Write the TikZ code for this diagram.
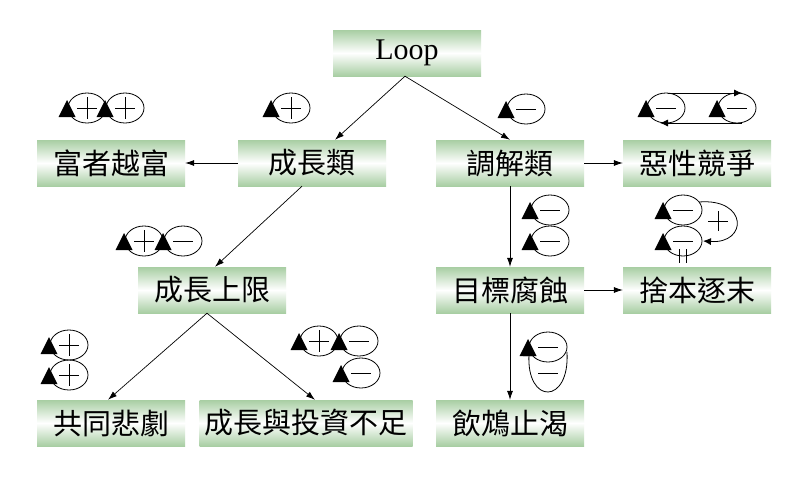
\documentclass[tikz,border=0pt]{standalone}
\usepackage{fontspec}
\setmainfont{Liberation Serif}
\newfontfamily\cjk{Noto Sans CJK TC}
\usetikzlibrary{arrows.meta}
\definecolor{boxg}{RGB}{168,206,163}
\begin{document}
\begin{tikzpicture}[x=1pt,y=-1pt,
  box/.style={rectangle, minimum width=148pt, minimum height=46pt, inner sep=0pt,
    top color=boxg, bottom color=boxg, middle color=white,
    font=\cjk\fontsize{29}{29}\selectfont},
  conn/.style={-{Latex[length=9pt,width=6pt]}, line width=0.7pt},
  sym/.style={line width=0.8pt},
  tri/.style={fill=black},
  plusloop/.pic={
    \draw[sym] (0,0) ellipse [x radius=19pt, y radius=15pt];
    \fill (-20,-8) -- (-28.5,9) -- (-11.5,9) -- cycle;
    \draw[sym] (-10,0) -- (10,0) (0,-11) -- (0,11);},
  minusloop/.pic={
    \draw[sym] (0,0) ellipse [x radius=19pt, y radius=15pt];
    \fill (-20,-8) -- (-28.5,9) -- (-11.5,9) -- cycle;
    \draw[sym] (-10,0) -- (10,0);}
]
\useasboundingbox (0,0) rectangle (803,479);
\fill[white] (0,0) rectangle (803,479);

% boxes
\node[box, font=\fontsize{30}{30}\selectfont] (loop) at (407,53) {Loop};
\node[box] (rich) at (111,163) {富者越富};
\node[box] (grow) at (312,163) {成長類};
\node[box] (adj) at (510,163) {調解類};
\node[box] (esc) at (697,163) {惡性競爭};
\node[box] (lim) at (212,290) {成長上限};
\node[box] (erode) at (510,290) {目標腐蝕};
\node[box] (shift) at (697,290) {捨本逐末};
\node[box] (trag) at (111,423) {共同悲劇};
\node[box, minimum width=213pt] (under) at (306,423) {成長與投資不足};
\node[box] (fix) at (510,423) {飲鴆止渴};

% connectors
\draw[conn] ([xshift=-2pt]loop.south) -- ([xshift=23pt]grow.north);
\draw[conn] ([xshift=-2pt]loop.south) -- (adj.north);
\draw[conn] (grow.west) -- (rich.east);
\draw[conn] (adj.east) -- (esc.west);
\draw[conn] ([xshift=-10pt]grow.south) -- ([xshift=3pt]lim.north);
\draw[conn] (adj.south) -- (erode.north);
\draw[conn] (erode.east) -- (shift.west);
\draw[conn] ([xshift=-5pt]lim.south) -- ([xshift=-3pt]trag.north);
\draw[conn] ([xshift=-5pt]lim.south) -- ([xshift=9pt]under.north);
\draw[conn] (erode.south) -- (fix.north);

% loop symbols
\pic at (87,108) {plusloop};
\pic at (125,108) {plusloop};
\pic at (291,108) {plusloop};
\pic at (526,109) {minusloop};
% escalation
\pic at (666,108) {minusloop};
\pic at (737,108) {minusloop};
\draw[sym, -{Latex[length=8pt,width=7pt]}] (668,93) -- (742,93);
\draw[sym, -{Latex[length=8pt,width=7pt]}] (742,123) -- (660,123);
% limits
\pic at (144,241) {plusloop};
\pic at (183,241) {minusloop};
% eroding
\pic at (550,210) {minusloop};
\pic at (550,241) {minusloop};
% shifting burden
\pic at (683,210) {minusloop};
\pic at (683,241) {minusloop};
\draw[sym, -{Latex[length=8pt,width=7pt]}] (699,202) .. controls (748,198) and (748,244) .. (703,241);
\draw[sym] (708,221) -- (728,221) (718,211) -- (718,231);
\draw[sym] (679,249) -- (679,263) (686,249) -- (686,263);
% tragedy
\pic at (69,345) {plusloop};
\pic at (69,375) {plusloop};
% underinvestment
\pic at (319,341) {plusloop};
\pic at (359,341) {minusloop};
\pic at (361,373) {minusloop};
% fixes that fail
\pic at (548,347) {minusloop};
\draw[sym] (529,354) .. controls (526,405) and (570,405) .. (567,352);
\fill (528,346) -- (523,356) -- (533,356) -- cycle;
\draw[sym] (538,373) -- (558,373);
\end{tikzpicture}
\end{document}
